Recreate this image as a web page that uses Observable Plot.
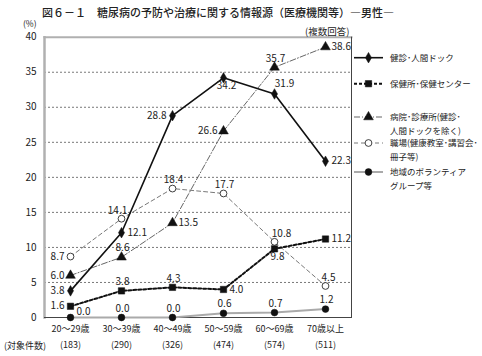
<!DOCTYPE html>
<html><head><meta charset="utf-8">
<script src="https://cdn.jsdelivr.net/npm/d3@7"></script>
<script src="https://cdn.jsdelivr.net/npm/@observablehq/plot@0.6"></script>
<style>
body{margin:0;background:#fff;font-family:"Noto Sans CJK JP",sans-serif;}
#wrap{position:relative;width:482px;height:356px;overflow:hidden;}
.t{position:absolute;white-space:nowrap;color:#222;line-height:1;}
#wrap svg{position:absolute;left:0;top:0;}
</style></head><body><div id="wrap"></div>
<script>
const categories = ["20～29歳","30～39歳","40～49歳","50～59歳","60～69歳","70歳以上"];
const counts = [183,290,326,474,574,511];
const yTicks = [0,5,10,15,20,25,30,35,40];
const names = ["健診・人間ドック","保健所・保健センター","病院・診療所（健診・人間ドックを除く）","職場（健康教室・講習会・冊子等）","地域のボランティアグループ等"];
const kenshin = [3.8,12.1,28.8,34.2,31.9,22.3];
const hokenjo = [1.6,3.8,4.3,4.0,9.8,11.2];
const byoin = [6.0,8.6,13.5,26.6,35.7,38.6];
const shokuba = [8.7,14.1,18.4,17.7,10.8,4.5];
const chiiki = [0.0,0.0,0.0,0.6,0.7,1.2];
const legendLines = [["健診･人間ドック"],["保健所･保健センター"],["病院･診療所(健診･","人間ドックを除く)"],["職場(健康教室･講習会･","冊子等)"],["地域のボランティア","グループ等"]];

// label placement codes (annotation layout)
const place = [
  ["L","R","L","B","TR","R"],
  ["L","T","T","R","B","R"],
  ["L","T","R","L","T","R"],
  ["L","TL","T","T","T2","T3"],
  ["TR0","T","T","T","T","T"]
];
const offs = {
  L:{dx:-6,dy:0,a:"end"}, R:{dx:6,dy:0,a:"start"}, T:{dx:1,dy:-9,a:"middle"},
  B:{dx:3,dy:8,a:"middle"}, TR:{dx:10,dy:-10,a:"middle"}, TL:{dx:-4,dy:-8,a:"middle"},
  T2:{dx:7,dy:-8,a:"middle"}, T3:{dx:3,dy:-8,a:"middle"}, TR0:{dx:13,dy:-6,a:"middle"}
};

const styles = [
  {stroke:"#111",sw:1.6,dash:null,symbol:"diamond",fill:"#111",r:3.2},
  {stroke:"#111",sw:2,dash:"3,2",symbol:"square",fill:"#111",r:3.6},
  {stroke:"#222",sw:0.7,dash:"6,2,1,2",symbol:"triangle",fill:"#111",r:3.6},
  {stroke:"#555",sw:0.8,dash:"4,3",symbol:"circle",fill:"#fff",r:3.4},
  {stroke:"#aaa",sw:2,dash:null,symbol:"circle",fill:"#111",r:3.4}
];
const seriesVals = [kenshin,hokenjo,byoin,shokuba,chiiki];

const data = [];
seriesVals.forEach((vals,s)=>vals.forEach((v,i)=>data.push({s,cat:categories[i],v,p:place[s][i]})));

const marks = [];
// grid
marks.push(Plot.ruleY(yTicks.filter(d=>d>0&&d<40),{stroke:"#555",strokeWidth:0.8,strokeDasharray:"2,2"}));
// frame
marks.push(Plot.frame({anchor:"top",stroke:"#b0b0b0",strokeWidth:2}));
marks.push(Plot.frame({anchor:"left",stroke:"#b0b0b0",strokeWidth:2.5}));
marks.push(Plot.frame({anchor:"right",stroke:"#444",strokeWidth:1}));
marks.push(Plot.ruleY([0],{stroke:"#444",strokeWidth:1}));
// lines
[4,3,2,1,0].forEach(s=>{
  const st=styles[s];
  marks.push(Plot.line(data.filter(d=>d.s===s),{x:"cat",y:"v",stroke:st.stroke,strokeWidth:st.sw,strokeDasharray:st.dash}));
});
[4,3,2,1,0].forEach(s=>{
  const st=styles[s];
  marks.push(Plot.dot(data.filter(d=>d.s===s),{x:"cat",y:"v",symbol:()=>st.symbol,fill:st.fill,stroke:"#111",strokeWidth:st.fill==="#fff"?0.8:0.5,r:st.r}));
});
// value labels
Object.entries(offs).forEach(([k,o])=>{
  marks.push(Plot.text(data.filter(d=>d.p===k),{x:"cat",y:"v",text:d=>d.v.toFixed(1),dx:o.dx,dy:o.dy,textAnchor:o.a,fontSize:10,fill:"#222"}));
});
// axes
marks.push(Plot.axisY({ticks:yTicks,tickSize:0,tickPadding:8,fontSize:10,label:null}));
marks.push(Plot.axisX({tickSize:0,tickPadding:8,fontSize:9,label:null}));
marks.push(Plot.text(categories,{x:d=>d,text:(d,i)=>"("+counts[i]+")",frameAnchor:"bottom",dy:30,fontSize:9,fill:"#222"}));

const chart = Plot.plot({
  width:482,height:356,
  marginTop:36.7,marginBottom:39,marginLeft:44,marginRight:131,
  style:{fontFamily:'"Noto Sans CJK JP",sans-serif',color:"#222",background:"transparent"},
  x:{type:"point",domain:categories,padding:0.5},
  y:{domain:[0,40]},
  symbol:{type:"identity"},
  marks
});
const wrap=document.getElementById("wrap");
wrap.appendChild(chart);

function addText(txt,x,y,size,extra){
  const d=document.createElement("div");d.className="t";d.textContent=txt;
  d.style.left=x+"px";d.style.top=y+"px";d.style.fontSize=size+"px";
  if(extra)Object.assign(d.style,extra);wrap.appendChild(d);return d;
}
addText("図６－１　糖尿病の予防や治療に関する情報源（医療機関等）―男性―",42,7,11,{fontWeight:"500"});
addText("(%)",23,19,8.5);
addText("(複数回答)",305,27,9.5);
addText("(対象件数)",4,341,9);

// legend
const ly=[57.7,83.7,117,143,172];
const lg=d3.select(wrap).append("svg").attr("width",482).attr("height",356).style("pointer-events","none");
const sym={diamond:d3.symbolDiamond,square:d3.symbolSquare,triangle:d3.symbolTriangle,circle:d3.symbolCircle};
styles.forEach((st,i)=>{
  const y=ly[i];
  lg.append("line").attr("x1",354).attr("x2",383).attr("y1",y).attr("y2",y)
    .attr("stroke",st.stroke).attr("stroke-width",st.sw).attr("stroke-dasharray",st.dash);
  lg.append("path").attr("d",d3.symbol(sym[st.symbol],Math.PI*st.r*st.r)()).attr("transform",`translate(368.5,${y})`)
    .attr("fill",st.fill).attr("stroke","#111").attr("stroke-width",st.fill==="#fff"?0.8:0.5);
  legendLines[i].forEach((t,j)=>{
    lg.append("text").attr("x",390).attr("y",y+j*14.5).attr("dy","0.35em").attr("font-size",8.5)
      .attr("fill","#222").attr("font-family",'"Noto Sans CJK JP",sans-serif').text(t);
  });
});
</script></body></html>
